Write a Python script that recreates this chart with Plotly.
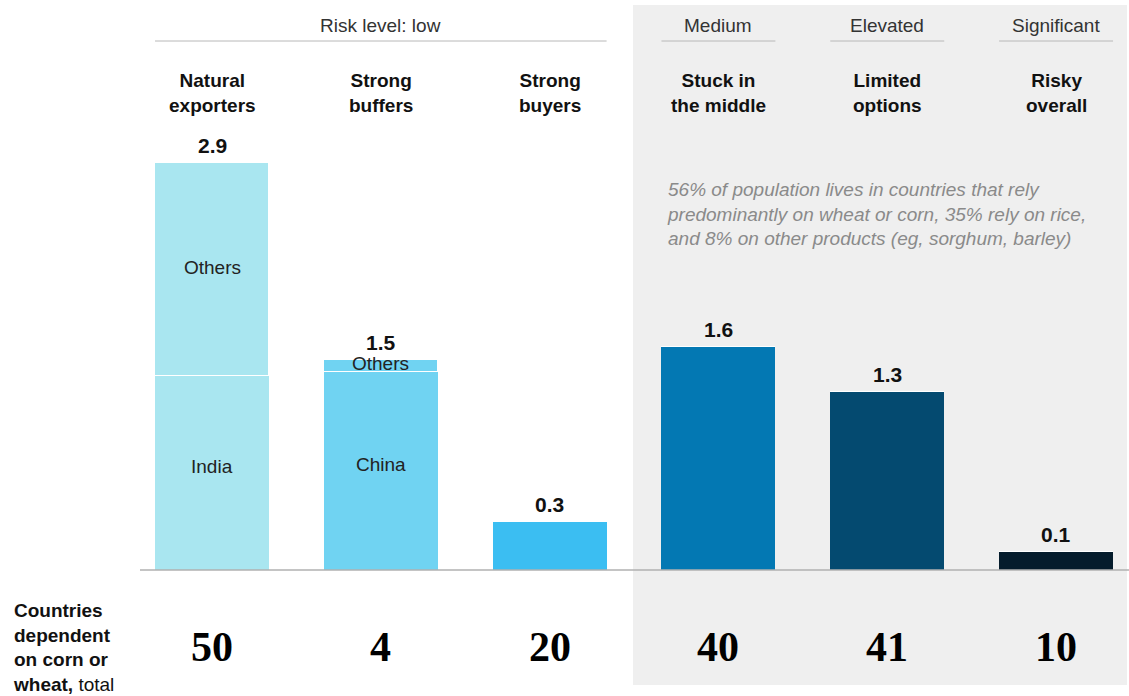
import plotly.graph_objects as go

# ---- data ----
categories = ["Natural<br>exporters", "Strong<br>buffers", "Strong<br>buyers",
              "Stuck in<br>the middle", "Limited<br>options", "Risky<br>overall"]
base_values = [1.38, 1.41, 0.34, 1.59, 1.27, 0.13]      # India / China / whole bar
others_values = [1.52, 0.09, 0, 0, 0, 0]                 # "Others" top segment
total_labels = ["2.9", "1.5", "0.3", "1.6", "1.3", "0.1"]
base_names = ["India", "China", "", "", "", ""]
others_names = ["Others", "Others", "", "", "", ""]
countries = [50, 4, 20, 40, 41, 10]
risk_levels = ["Risk level: low", "Medium", "Elevated", "Significant"]
risk_spans = [(0, 2), (3, 3), (4, 4), (5, 5)]
colors = ["#A9E6F0", "#70D3F2", "#3BBEF2", "#0378B3", "#044A70", "#051C2C"]
note = ("56% of population lives in countries that rely<br>"
        "predominantly on wheat or corn, 35% rely on rice,<br>"
        "and 8% on other products (eg, sorghum, barley)")

W, H = 1129, 696
SANS = "Liberation Sans, Arial, sans-serif"
SERIF = "Liberation Serif, Georgia, serif"

def py(p):  # pixel y -> paper y
    return 1 - p / H

def px(p):
    return p / W

x = list(range(len(categories)))
BW = 0.675
totals = [b + o for b, o in zip(base_values, others_values)]

fig = go.Figure()
fig.add_trace(go.Bar(x=x, y=base_values, width=BW, marker=dict(color=colors, line=dict(width=0)),
                     hoverinfo="skip", showlegend=False))
fig.add_trace(go.Bar(x=x, y=others_values, width=BW,
                     marker=dict(color=colors, line=dict(width=1, color="white")),
                     hoverinfo="skip", showlegend=False))

ann = []
# value labels above bars
for i, (t, lab) in enumerate(zip(totals, total_labels)):
    ann.append(dict(x=i, y=t, xref="x", yref="y", text=f"<b>{lab}</b>", showarrow=False,
                    yanchor="bottom", yshift=4, font=dict(family=SANS, size=21, color="#111")))
# segment labels
for i in range(len(x)):
    if base_names[i]:
        ann.append(dict(x=i, y=base_values[i] / 2 + 0.05, xref="x", yref="y", text=base_names[i],
                        showarrow=False, yanchor="middle",
                        font=dict(family=SANS, size=19, color="#222")))
    if others_names[i]:
        ann.append(dict(x=i, y=base_values[i] + others_values[i] / 2, xref="x", yref="y",
                        text=others_names[i], showarrow=False, yanchor="middle", yshift=2,
                        font=dict(family=SANS, size=19, color="#222")))
# category headers
for i, c in enumerate(categories):
    ann.append(dict(x=i, y=py(93), xref="x", yref="paper", text=f"<b>{c}</b>", showarrow=False,
                    yanchor="middle", font=dict(family=SANS, size=19, color="#111")))
# country counts
for i, n in enumerate(countries):
    ann.append(dict(x=i, y=py(647), xref="x", yref="paper", text=f"<b>{n}</b>", showarrow=False,
                    yanchor="middle", font=dict(family=SERIF, size=42, color="#000")))
# risk level labels
shapes = []
for lab, (a, b) in zip(risk_levels, risk_spans):
    ann.append(dict(x=(a + b) / 2, y=py(26), xref="x", yref="paper", text=lab, showarrow=False,
                    yanchor="middle", font=dict(family=SANS, size=19, color="#333")))
    shapes.append(dict(type="line", xref="x", yref="paper", x0=a - BW / 2, x1=b + BW / 2,
                       y0=py(41), y1=py(41), line=dict(color="#b8b8b8", width=1)))
# note
ann.append(dict(x=px(665), y=py(214), xref="paper", yref="paper", text=f"<i>{note}</i>",
                showarrow=False, xanchor="left", yanchor="middle", align="left",
                font=dict(family=SANS, size=19, color="#8a8a8a")))
# left label
ann.append(dict(x=px(11), y=py(647), xref="paper", yref="paper",
                text="<b>Countries<br>dependent<br>on corn or<br>wheat,</b> total",
                showarrow=False, xanchor="left", yanchor="middle", align="left",
                font=dict(family=SANS, size=19, color="#111")))

# grey panel and baseline
shapes.insert(0, dict(type="rect", xref="paper", yref="paper", x0=px(633), x1=px(1127),
                      y0=py(685), y1=py(5), fillcolor="#efefef", line=dict(width=0), layer="below"))
shapes.append(dict(type="line", xref="paper", yref="paper", x0=px(140), x1=1, y0=py(570), y1=py(570),
                   line=dict(color="#b0b0b0", width=1.5)))

fig.update_layout(
    width=W, height=H, margin=dict(l=0, r=0, t=0, b=0),
    paper_bgcolor="white", plot_bgcolor="rgba(0,0,0,0)",
    barmode="stack", bargap=0,
    xaxis=dict(domain=[px(140), 1], range=[-0.4265, 5.432], visible=False, fixedrange=True),
    yaxis=dict(domain=[py(570), 1], range=[0, 570 / 140.3], visible=False, fixedrange=True),
    annotations=ann, shapes=shapes,
)
fig.write_html("out.html")
